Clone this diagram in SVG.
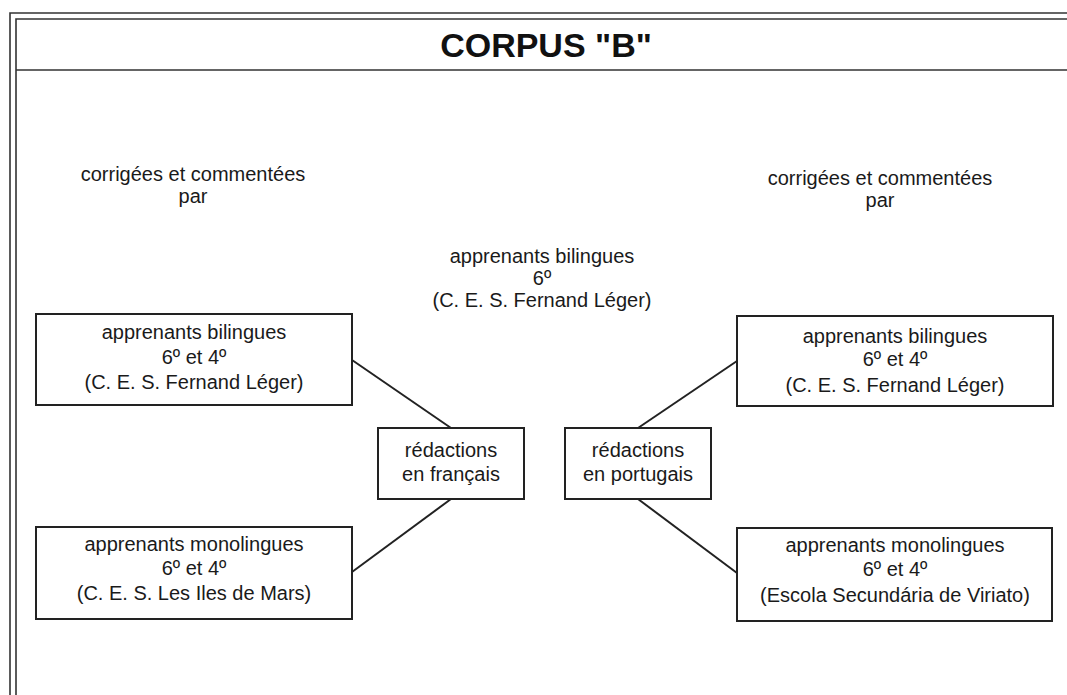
<svg xmlns="http://www.w3.org/2000/svg" width="1067" height="695" viewBox="0 0 1067 695">
<style>
.frame{stroke:#333;stroke-width:1.6;fill:none}
.box{fill:#fff;stroke:#222;stroke-width:2}
.conn{stroke:#222;stroke-width:2;fill:none}
text{font-family:"Liberation Sans",Arial,sans-serif;font-size:20px;fill:#1a1a1a;text-anchor:middle}
.title{font-size:34px;font-weight:bold;fill:#111}
</style>
<rect width="1067" height="695" fill="#fff"/>
<g id="frame">
<path class="frame" d="M10,695 V13 H1067 M16,695 V19 H1067 M16,70 H1067"/>
<text class="title" x="546" y="57">CORPUS "B"</text>
</g>
<g id="label-left">
<text x="193" y="181">corrigées et commentées</text>
<text x="193" y="203">par</text>
</g>
<g id="label-right">
<text x="880" y="185">corrigées et commentées</text>
<text x="880" y="207">par</text>
</g>
<g id="center-label">
<text x="542" y="263">apprenants bilingues</text>
<text x="542" y="285">6º</text>
<text x="542" y="307">(C. E. S. Fernand Léger)</text>
</g>
<g id="connectors">
<line class="conn" x1="352" y1="360" x2="451" y2="428"/>
<line class="conn" x1="352" y1="572" x2="451" y2="499"/>
<line class="conn" x1="638" y1="428" x2="737" y2="361"/>
<line class="conn" x1="638" y1="499" x2="737" y2="573"/>
</g>
<g id="box-left-top">
<rect class="box" x="36" y="314" width="316" height="91"/>
<text x="194" y="339">apprenants bilingues</text>
<text x="194" y="364">6º et 4º</text>
<text x="194" y="389">(C. E. S. Fernand Léger)</text>
</g>
<g id="box-left-bottom">
<rect class="box" x="36" y="527" width="316" height="92"/>
<text x="194" y="551">apprenants monolingues</text>
<text x="194" y="575">6º et 4º</text>
<text x="194" y="600">(C. E. S. Les Iles de Mars)</text>
</g>
<g id="box-francais">
<rect class="box" x="378" y="428" width="146" height="71"/>
<text x="451" y="457">rédactions</text>
<text x="451" y="481">en français</text>
</g>
<g id="box-portugais">
<rect class="box" x="565" y="428" width="146" height="71"/>
<text x="638" y="457">rédactions</text>
<text x="638" y="481">en portugais</text>
</g>
<g id="box-right-top">
<rect class="box" x="737" y="316" width="316" height="90"/>
<text x="895" y="343">apprenants bilingues</text>
<text x="895" y="366">6º et 4º</text>
<text x="895" y="392">(C. E. S. Fernand Léger)</text>
</g>
<g id="box-right-bottom">
<rect class="box" x="737" y="528" width="315" height="93"/>
<text x="895" y="552">apprenants monolingues</text>
<text x="895" y="576">6º et 4º</text>
<text x="895" y="602">(Escola Secundária de Viriato)</text>
</g>
</svg>
